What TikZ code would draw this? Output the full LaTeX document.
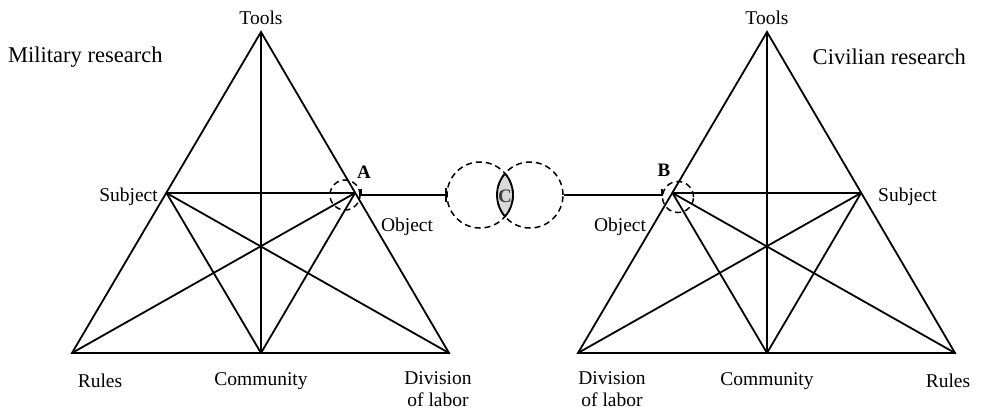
\documentclass[tikz,border=0pt]{standalone}
\usepackage{fontspec}
\setmainfont{Liberation Serif}
\begin{document}
\begin{tikzpicture}[x=1pt,y=-1pt,
  edge/.style={line width=1.8pt},
  lab/.style={font=\fontsize{19.5}{21.5}\selectfont, inner sep=0pt},
  ttl/.style={font=\fontsize{22.5}{25}\selectfont, inner sep=0pt},
  pointlab/.style={font=\fontsize{19}{21}\selectfont\bfseries, inner sep=0pt},
  dcirc/.style={circle, draw, line width=1.5pt, dash pattern=on 6pt off 4pt, inner sep=0pt, minimum size=#1}
]
\useasboundingbox (0,0) rectangle (1007,412);
% left triangle
\coordinate (T1) at (261,32);
\coordinate (R1) at (72,353);
\coordinate (D1) at (449,353);
\coordinate (C1) at (261,353);
\coordinate (S1) at (166.5,193);
\coordinate (O1) at (355,193);
\draw[edge] (T1) -- (R1) -- (D1) -- cycle;
\draw[edge] (S1) -- (O1);
\draw[edge] (T1) -- (C1);
\draw[edge] (S1) -- (C1);
\draw[edge] (S1) -- (D1);
\draw[edge] (O1) -- (R1);
\draw[edge] (O1) -- (C1);
% right triangle
\coordinate (T2) at (767,32);
\coordinate (D2) at (578,353);
\coordinate (R2) at (955,353);
\coordinate (C2) at (767,353);
\coordinate (O2) at (672.5,193);
\coordinate (S2) at (861,193);
\draw[edge] (T2) -- (D2) -- (R2) -- cycle;
\draw[edge] (O2) -- (S2);
\draw[edge] (T2) -- (C2);
\draw[edge] (S2) -- (C2);
\draw[edge] (S2) -- (D2);
\draw[edge] (O2) -- (R2);
\draw[edge] (O2) -- (C2);
% small dashed circles
\node[dcirc=30pt] (cA) at (345,195) {};
\node[dcirc=31pt] (cB) at (678,197) {};
% big circles and lens
\coordinate (LC) at (480,195);
\coordinate (RC) at (530,195);
\begin{scope}
  \clip (LC) circle (33);
  \fill[gray!30] (RC) circle (33);
\end{scope}
\begin{scope}
  \clip (LC) circle (33);
  \draw[line width=1.8pt] (RC) circle (33);
\end{scope}
\begin{scope}
  \clip (RC) circle (33);
  \draw[line width=1.8pt] (LC) circle (33);
\end{scope}
\node[dcirc=66pt] (bigL) at (LC) {};
\node[dcirc=66pt] (bigR) at (RC) {};
% connectors
\coordinate (ta) at (361,195);
\coordinate (tb) at (662,195);
\draw[line width=1.6pt] (361,189) -- (ta) -- (bigL.west);
\draw[line width=1.6pt] ([yshift=-7pt]bigL.west) -- ([yshift=7pt]bigL.west);
\draw[line width=1.6pt] (bigR.east) -- (tb) -- (662,189);
% labels left
\node[lab] (tools1) at (261,18) {Tools};
\node[ttl, anchor=west] (mil) at (8,57) {Military research};
\node[lab, anchor=east] (sub1) at (158,197) {Subject};
\node[lab] (obj1) at (407,227) {Object};
\node[lab] (rul1) at (100,381) {Rules};
\node[lab] (com1) at (261,381) {Community};
\node[lab, align=center] (div1) at (438,389) {Division\\of labor};
\node[pointlab] (A) at (364,172) {A};
% labels right
\node[lab] (tools2) at (767,18) {Tools};
\node[ttl, anchor=east] (civ) at (966,57) {Civilian research};
\node[lab, anchor=west] (sub2) at (878,197) {Subject};
\node[lab] (obj2) at (620,227) {Object};
\node[lab] (rul2) at (948,381) {Rules};
\node[lab] (com2) at (767,381) {Community};
\node[lab, align=center] (div2) at (612,389) {Division\\of labor};
\node[pointlab] (B) at (664,170) {B};
\node[pointlab, text=black!75] (C) at (505,196) {C};
\end{tikzpicture}
\end{document}
